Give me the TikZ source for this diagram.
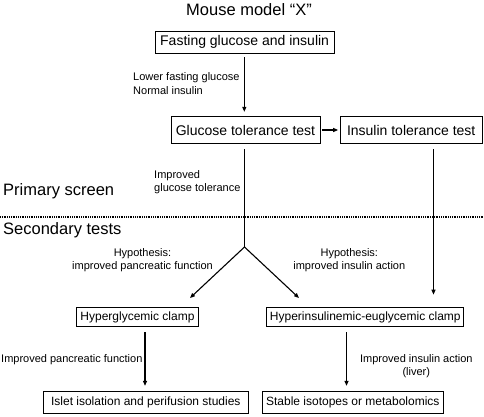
\documentclass[tikz,border=0pt]{standalone}
\usepackage{fontspec}
\setmainfont{Liberation Sans}
\usetikzlibrary{arrows.meta}
\begin{document}
\begin{tikzpicture}[x=1pt,y=-1pt,
  bigbox/.style={draw, line width=0.7pt, inner sep=0pt, font=\fontsize{14}{16}\selectfont, minimum height=22pt},
  smallbox/.style={draw, line width=0.7pt, inner sep=0pt, font=\fontsize{12}{14}\selectfont, minimum height=20pt},
  lbl/.style={inner sep=0pt, font=\fontsize{11}{13.3}\selectfont},
  head/.style={inner sep=0pt, font=\fontsize{16.5}{19}\selectfont},
  arr/.style={line width=1.1pt, -{Triangle[length=5pt,width=4pt]}},
  ln/.style={line width=1.1pt}]
\useasboundingbox (0,0) rectangle (484,416);

\node[head, anchor=base] (title) at (249,15.7) {Mouse model “X”};
\node[bigbox, minimum width=179pt] (fast) at (244.6,42.2) {Fasting glucose and insulin};
\node[bigbox, minimum width=149pt, minimum height=26.6pt] (gtt) at (245.5,130) {Glucose tolerance test};
\node[bigbox, minimum width=142pt, minimum height=26.6pt] (itt) at (411.2,130) {Insulin tolerance test};

\node[lbl, align=left, anchor=north west] (l1) at (133,72.7) {Lower fasting glucose\\Normal insulin};
\node[lbl, align=left, anchor=north west] (l2) at (154,170) {Improved\\glucose tolerance};

\node[head, anchor=base west] (prim) at (3,195.5) {Primary screen};
\node[head, anchor=base west] (sec) at (3,234.5) {Secondary tests};
\coordinate (dl) at (0,217);
\coordinate (dr) at (484,217);
\draw[line width=1.5pt, dash pattern=on 1pt off 0.8pt] (dl) -- (dr);

\node[lbl, align=center, anchor=north] (h1) at (142.5,248.3) {Hypothesis:\\improved pancreatic function};
\node[lbl, align=center, anchor=north] (h2) at (349.3,248.3) {Hypothesis:\\improved insulin action};

\node[smallbox, minimum width=121.6pt, minimum height=19pt] (hg) at (137.5,317.2) {Hyperglycemic clamp};
\node[smallbox, minimum width=197pt, minimum height=19pt] (hie) at (365.3,317.2) {Hyperinsulinemic-euglycemic clamp};

\node[lbl, anchor=north west] (l3) at (1,354.3) {Improved pancreatic function};
\node[lbl, align=center, anchor=north] (l4) at (416.3,354.3) {Improved insulin action\\(liver)};

\node[smallbox, minimum width=205pt, minimum height=22pt] (islet) at (145.8,402.2) {Islet isolation and perifusion studies};
\node[smallbox, minimum width=181pt, minimum height=22pt] (stable) at (352.8,402.2) {Stable isotopes or metabolomics};

% connectors
\coordinate (fdown) at (244.3,53.3);
\draw[arr, shorten <=3.7pt, shorten >=4.5pt] (fdown) -- (fdown |- gtt.north);
\draw[arr, shorten <=1.7pt, shorten >=1.7pt] (gtt.east) -- (itt.west);
\coordinate (gdown) at (244.5,143.3);
\coordinate (br) at (244.5,247);
\coordinate (tipL) at (190,298);
\coordinate (tipR) at (299,298);
\draw[ln, shorten <=5.7pt] (gdown) -- (br);
\draw[arr] (br) -- (tipL);
\draw[arr] (br) -- (tipR);
\coordinate (idown) at (433.5,143.3);
\draw[arr, shorten <=5.7pt, shorten >=12.7pt] (idown) -- (idown |- hie.north);
\coordinate (hgdown) at (145,326.7);
\draw[arr, shorten <=5.3pt, shorten >=5pt] (hgdown) -- (hgdown |- islet.north);
\coordinate (hiedown) at (346.5,326.7);
\draw[arr, shorten <=5.3pt, shorten >=5pt] (hiedown) -- (hiedown |- stable.north);
\end{tikzpicture}
\end{document}
